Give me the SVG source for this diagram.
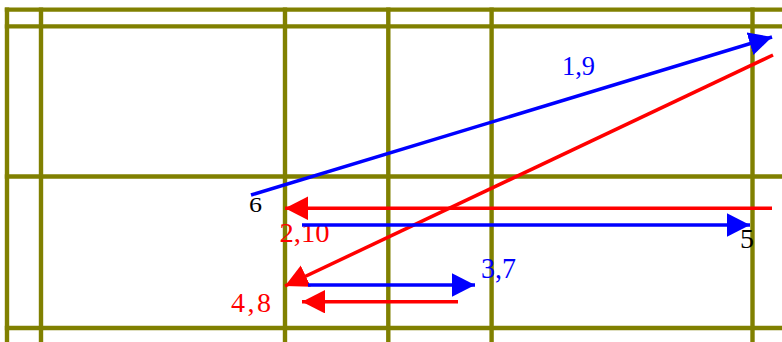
<svg xmlns="http://www.w3.org/2000/svg" width="782" height="342" viewBox="0 0 782 342">
<style>
.grid line{stroke:#808000;stroke-width:4.4}
.lbl{font-family:"Liberation Serif","Times New Roman",serif;font-size:28px}
.b{fill:#0000ff}.r{fill:#ff0000}.k{fill:#000}
.cb{stroke:#0000ff;stroke-width:3.5;fill:none}
.cr{stroke:#ff0000;stroke-width:3.5;fill:none}
</style>
<defs>
<marker id="ab" markerUnits="userSpaceOnUse" markerWidth="24" markerHeight="24" refX="23" refY="11.75" orient="auto" viewBox="0 0 24 24">
<path d="M0,0 L23,11.75 L0,23.5 z" fill="#0000ff"/>
</marker>
<marker id="ar" markerUnits="userSpaceOnUse" markerWidth="24" markerHeight="24" refX="23" refY="11.75" orient="auto" viewBox="0 0 24 24">
<path d="M0,0 L23,11.75 L0,23.5 z" fill="#ff0000"/>
</marker>
</defs>
<rect width="782" height="342" fill="#fff"/>
<g class="grid" id="grid">
<line x1="4.8" y1="9.6" x2="782" y2="9.6"/>
<line x1="4.8" y1="26.4" x2="782" y2="26.4"/>
<line x1="4.8" y1="176.5" x2="782" y2="176.5"/>
<line x1="4.8" y1="328" x2="782" y2="328"/>
<line x1="7" y1="7.4" x2="7" y2="342"/>
<line x1="41" y1="7.4" x2="41" y2="342"/>
<line x1="285" y1="7.4" x2="285" y2="342"/>
<line x1="388.3" y1="7.4" x2="388.3" y2="342"/>
<line x1="491.6" y1="7.4" x2="491.6" y2="342"/>
<line x1="752.5" y1="7.4" x2="752.5" y2="342"/>
</g>
<g id="n6"><text class="lbl k" x="249" y="212" style="font-size:22px" textLength="13" lengthAdjust="spacingAndGlyphs">6</text></g>
<g id="n5"><text class="lbl k" x="740" y="248" style="font-size:27px" textLength="14" lengthAdjust="spacingAndGlyphs">5</text></g>
<g id="n19"><text class="lbl b" x="562" y="75" style="font-size:27px" textLength="33" lengthAdjust="spacingAndGlyphs">1,9</text></g>
<g id="n210"><text class="lbl r" x="279.5" y="242" textLength="50" lengthAdjust="spacingAndGlyphs">2,10</text></g>
<g id="n48"><text class="lbl r" x="231" y="312" textLength="40" lengthAdjust="spacing">4,8</text></g>
<g id="n37"><text class="lbl b" x="481" y="278" style="font-size:29px" textLength="35" lengthAdjust="spacingAndGlyphs">3,7</text></g>
<g id="connectors">
<line class="cb" x1="251" y1="195" x2="772" y2="37" marker-end="url(#ab)"/>
<line class="cr" x1="773" y1="55" x2="285" y2="286" marker-end="url(#ar)"/>
<line class="cr" x1="772" y1="208.3" x2="285" y2="208.3" marker-end="url(#ar)"/>
<line class="cb" x1="302" y1="225" x2="750" y2="225" marker-end="url(#ab)"/>
<line class="cb" x1="308" y1="285" x2="475" y2="285" marker-end="url(#ab)"/>
<line class="cr" x1="458" y1="301.7" x2="302" y2="301.7" marker-end="url(#ar)"/>
</g>
</svg>
